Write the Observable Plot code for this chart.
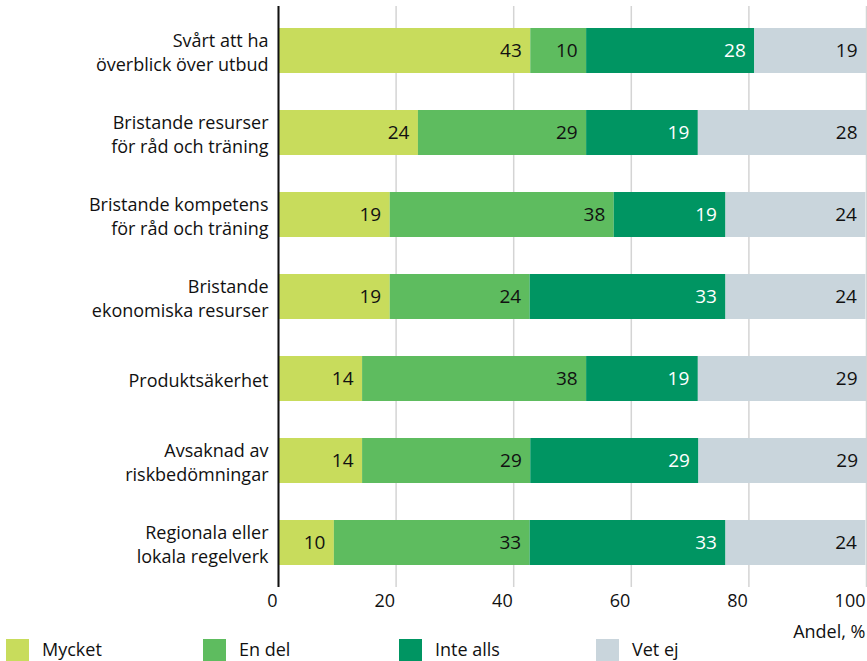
<!DOCTYPE html>
<html><head><meta charset="utf-8">
<script src="https://cdn.jsdelivr.net/npm/d3@7"></script>
<script src="https://cdn.jsdelivr.net/npm/@observablehq/plot@0.6"></script>
<style>
body{margin:0;background:#fff;font-family:"Open Sans","Noto Sans",sans-serif;}
#chart svg{display:block;}
</style></head><body>
<div id="chart"></div>
<script>
const questions = [
  "Svårt att ha\növerblick över utbud",
  "Bristande resurser\nför råd och träning",
  "Bristande kompetens\nför råd och träning",
  "Bristande\nekonomiska resurser",
  "Produktsäkerhet",
  "Avsaknad av\nriskbedömningar",
  "Regionala eller\nlokala regelverk"
];
const categories = ["Mycket", "En del", "Inte alls", "Vet ej"];
const colors = ["#c8dc5c", "#5ebc5f", "#009562", "#c9d5dc"];
// estimated shares (%)
const mycket   = [42.9, 23.8, 19.0, 19.0, 14.3, 14.3,  9.5];
const endel    = [ 9.5, 28.6, 38.1, 23.8, 38.1, 28.6, 33.3];
const intealls = [28.6, 19.0, 19.0, 33.3, 19.0, 28.6, 33.3];
const vetej    = [19.0, 28.6, 23.8, 23.8, 28.6, 28.6, 23.8];
// printed labels
const mycketLbl   = [43, 24, 19, 19, 14, 14, 10];
const endelLbl    = [10, 29, 38, 24, 38, 29, 33];
const inteallsLbl = [28, 19, 19, 33, 19, 29, 33];
const vetejLbl    = [19, 28, 24, 24, 29, 29, 24];
const xTicks = [0, 20, 40, 60, 80, 100];

const series = [[mycket, mycketLbl], [endel, endelLbl], [intealls, inteallsLbl], [vetej, vetejLbl]];
const data = [];
questions.forEach((q, i) => series.forEach(([v, l], j) => data.push({q, cat: categories[j], value: v[i], label: String(l[i])})));

const font = "'Open Sans', 'Noto Sans', sans-serif";
const plot = Plot.plot({
  width: 867, height: 661,
  marginLeft: 278, marginRight: 1, marginTop: 6, marginBottom: 74,
  style: {fontFamily: font, fontSize: "17px", color: "#111"},
  x: {domain: [0, 100]},
  y: {domain: questions, paddingInner: 0.45, paddingOuter: 0.24},
  color: {domain: categories, range: colors},
  marks: [
    Plot.gridX(xTicks, {stroke: "#d4d4d4", strokeOpacity: 1, strokeWidth: 1.5}),
    Plot.barX(data, Plot.stackX({x: "value", y: "q", fill: "cat", order: categories})),
    Plot.text(data, Plot.stackX2({x: "value", y: "q", z: "cat", order: categories, text: "label",
      textAnchor: "end", dx: -9, fontSize: 19, fill: d => d.cat === "Inte alls" ? "#fff" : "#111"})),
    Plot.axisY({tickSize: 0, tickPadding: 10, fontSize: 18, lineHeight: 1.33, textAnchor: "end", label: null}),
    Plot.axisX(xTicks, {tickSize: 0, tickPadding: 7, fontSize: 18, textAnchor: "end", dx: -1, label: null}),
    Plot.text(["Andel, %"], {frameAnchor: "bottom-right", textAnchor: "end", dy: 45, dx: -1, fontSize: 18, lineAnchor: "middle"}),
    Plot.ruleX([0], {stroke: "#111", strokeWidth: 2}),
    Plot.ruleY([0], {stroke: "#111", strokeWidth: 2, y: () => null, frameAnchor: "bottom"})
  ]
});
document.getElementById("chart").appendChild(plot);

// legend drawn inside the svg, below the plot area
const lx = [6, 203, 399, 596];
const lg = d3.select(plot).append("g").attr("class", "legend").attr("text-anchor", "start");
categories.forEach((c, i) => {
  lg.append("rect").attr("x", lx[i]).attr("y", 639).attr("width", 23).attr("height", 22).attr("fill", colors[i]);
  lg.append("text").attr("x", lx[i] + 36).attr("y", 650).attr("dy", "0.35em")
    .attr("font-size", 18).attr("fill", "#111").attr("text-anchor", "start").text(c);
});
</script>
</body></html>
